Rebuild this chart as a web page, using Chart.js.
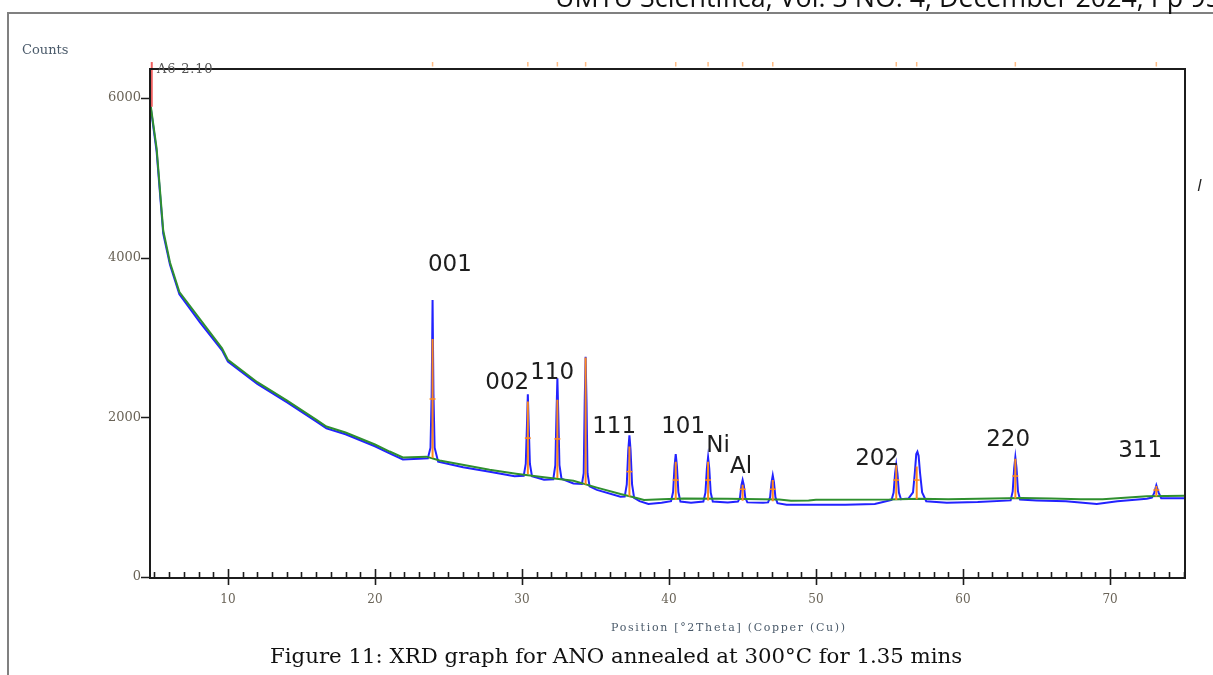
<!DOCTYPE html>
<html>
<head>
<meta charset="utf-8">
<script src="https://cdn.jsdelivr.net/npm/chart.js@4.4.1/dist/chart.umd.min.js"></script>
<style>
  html, body { margin:0; padding:0; background:#fff; overflow:hidden; width:1213px; height:675px; }
  #wrap { position:relative; width:1213px; height:675px; overflow:hidden; }
  canvas { position:absolute; left:0; top:0; }
  .txt { position:absolute; white-space:nowrap; line-height:1; }
  #pageframe { position:absolute; left:7px; top:12px; width:1220px; height:680px; border-left:2px solid #808080; border-top:2px solid #808080; }
  #runhead { left:555px; top:-16px; font-size:26.8px; font-family:"Open Sans", sans-serif; color:#111; }
  #counts { left:22px; top:43px; font-size:13px; font-family:"DejaVu Serif", serif; color:#4a5a6a; }
  #scanid { left:157px; top:62px; font-size:13px; letter-spacing:0.8px; font-family:"DejaVu Serif", serif; color:#555; }
  #xtitle { left:611px; top:622px; font-size:11px; letter-spacing:1.7px; font-family:"DejaVu Serif", serif; color:#4a5a6a; }
  #caption { left:270px; top:645px; font-size:21.3px; font-family:"DejaVu Serif", serif; color:#111; }
  #sidechar { left:1197px; top:176px; font-size:17px; font-style:italic; font-family:"Open Sans", sans-serif; color:#222; }
</style>
</head>
<body>
<div id="wrap">
  <canvas id="xrd" width="1213" height="675"></canvas>
  <div id="pageframe"></div>
  <div class="txt" id="runhead">UMYU Scientifica, Vol. 3 NO. 4, December 2024, Pp 95 – 105</div>
  <div class="txt" id="counts">Counts</div>
  <div class="txt" id="scanid">A6 2.10</div>
  <div class="txt" id="xtitle">Position [°2Theta] (Copper (Cu))</div>
  <div class="txt" id="caption">Figure 11: XRD graph for ANO annealed at 300°C for 1.35 mins</div>
  <div class="txt" id="sidechar">I</div>
</div>
<script>
// measured scan (2theta, counts)
const scanTheta = [4.75, 5.15, 5.6, 6.06, 6.7, 8.1, 9.6, 10, 12, 14, 16, 16.7, 18, 20, 21, 21.9, 23, 23.6,
  23.78, 23.86, 23.92, 23.98, 24.06, 24.3, 26, 27.8, 29.5,
  30.12, 30.26, 30.34, 30.4, 30.46, 30.54, 30.68, 31.5,
  32.13, 32.27, 32.35, 32.41, 32.47, 32.55, 32.69, 33.5,
  34.08, 34.2, 34.27, 34.33, 34.39, 34.46, 34.6, 35.1, 36.7,
  36.99, 37.13, 37.23, 37.31, 37.39, 37.49, 37.63, 38.0, 38.6, 39.5,
  40.14, 40.28, 40.38, 40.46, 40.54, 40.64, 40.78, 41.5,
  42.34, 42.48, 42.58, 42.66, 42.74, 42.84, 42.98, 44.0,
  44.69, 44.83, 44.93, 45.01, 45.09, 45.19, 45.33, 46.4,
  46.74, 46.88, 46.98, 47.06, 47.14, 47.24, 47.38, 48, 50, 52, 54,
  55.14, 55.28, 55.38, 55.46, 55.54, 55.64, 55.78,
  56.3, 56.6, 56.72, 56.82, 56.9, 56.98, 57.08, 57.22, 57.5, 58.9, 61,
  63.24, 63.38, 63.48, 63.56, 63.64, 63.74, 63.88, 65, 67, 69.1, 70.5, 72.5,
  72.85, 73.0, 73.15, 73.3, 73.48, 75.1];
const scanCounts = [5880, 5330, 4300, 3910, 3540, 3190, 2840, 2700, 2420, 2190, 1950, 1862, 1788, 1638, 1548, 1472, 1482, 1487,
  1620, 2300, 3470, 2300, 1620, 1445, 1375, 1320, 1262,
  1268, 1420, 1900, 2290, 1900, 1420, 1262, 1218,
  1225, 1400, 2050, 2490, 2050, 1400, 1232, 1172,
  1165, 1300, 2200, 2760, 2200, 1300, 1135, 1092, 1005,
  1008, 1160, 1585, 1775, 1585, 1160, 990, 950, 915, 930,
  950, 1065, 1390, 1540, 1390, 1065, 945, 930,
  945, 1056, 1360, 1500, 1360, 1056, 945, 935,
  945, 995, 1150, 1215, 1150, 995, 935, 930,
  935, 1000, 1190, 1275, 1190, 1000, 925, 905, 905, 905, 915,
  965, 1058, 1300, 1410, 1300, 1058, 975,
  985, 1060, 1300, 1540, 1570, 1520, 1300, 1060, 950, 930, 940,
  960, 1072, 1365, 1500, 1365, 1072, 970, 960, 948, 915, 950, 982,
  995, 1050, 1150, 1060, 988, 988];

// fitted background
const bgTheta = [4.75, 5.15, 5.6, 6.06, 6.7, 9.6, 10, 12, 14, 16, 16.7, 18, 20, 21, 21.9, 23.5, 24.4, 27.8,
  29.6, 31.5, 33.5, 35.1, 36.7, 37.8, 38.3, 39.5, 41, 44, 47.5, 48.3, 49.5, 50, 55, 57, 59, 62, 64,
  66, 68, 69.5, 72.5, 75.1];
const bgCounts = [5900, 5370, 4340, 3940, 3570, 2865, 2720, 2440, 2212, 1972, 1885, 1810, 1660, 1572, 1498, 1508, 1460, 1345,
  1295, 1250, 1205, 1120, 1040, 990, 965, 975, 985, 980, 970, 955, 960, 968, 970, 980, 975, 985, 990,
  985, 975, 975, 1012, 1018];

// peak list sticks
const peakTheta = [23.92, 30.4, 32.41, 34.33, 37.31, 40.46, 42.66, 45.01, 47.06, 55.46, 56.85, 63.56, 73.15];
const peakTop   = [2980, 2200, 2220, 2750, 1635, 1445, 1445, 1155, 1215, 1400, 1385, 1480, 1140];
const peakBase  = [1490, 1290, 1240, 1160, 1010, 965, 960, 955, 950, 965, 975, 985, 1010];
const peakMid   = [2230, 1740, 1730, null, 1320, 1215, 1215, 1100, 1100, 1215, 1215, 1265, 1090];

// reference positions marked above the frame
const refTheta = [23.92, 30.4, 32.41, 34.33, 40.46, 42.66, 45.01, 47.06, 55.46, 56.85, 63.56, 73.15];

// reflection labels
const hklText   = ["001", "002", "110", "111", "101", "Ni", "Al", "202", "220", "311"];
const hklTheta  = [25.1, 29.0, 32.05, 36.27, 40.96, 43.34, 44.9, 54.16, 63.07, 72.05];
const hklCounts = [3910, 2431, 2556, 1880, 1880, 1642, 1378, 1479, 1717, 1579];

const xTickLabels = [10, 20, 30, 40, 50, 60, 70];
const yTickLabels = [0, 2000, 4000, 6000];

const startTheta = 4.82;

const sticks = [];
peakTheta.forEach((t, i) => {
  sticks.push({x: t, y: peakBase[i]}, {x: t, y: peakTop[i]}, {x: t, y: null});
});
const midMarks = [];
peakTheta.forEach((t, i) => { if (peakMid[i] !== null) midMarks.push({x: t, y: peakMid[i]}); });
const refMarks = [];
refTheta.forEach(t => { refMarks.push({x: t, y: 6395}, {x: t, y: 6450}, {x: t, y: null}); });

const frameAndLabels = {
  id: 'frameAndLabels',
  afterDatasetsDraw(chart) {
    const {ctx, chartArea: a, scales: {x, y}} = chart;
    ctx.save();
    ctx.strokeStyle = '#1c1c1c';
    ctx.lineWidth = 2;
    ctx.strokeRect(a.left, a.top, a.right - a.left, a.bottom - a.top);

    ctx.lineWidth = 1.6;
    ctx.beginPath();
    for (let d = 5; d <= 75; d++) {
      const px = Math.round(x.getPixelForValue(d)) + 0.5;
      if (d % 10 === 0) { ctx.moveTo(px, a.bottom - 9); ctx.lineTo(px, a.bottom + 7); }
      else { ctx.moveTo(px, a.bottom - 6); ctx.lineTo(px, a.bottom); }
    }
    yTickLabels.forEach(v => {
      const py = Math.round(y.getPixelForValue(v)) + 0.5;
      ctx.moveTo(a.left - 9, py); ctx.lineTo(a.left, py);
    });
    ctx.stroke();

    ctx.fillStyle = '#1e1e1e';
    ctx.font = '23px "DejaVu Sans"';
    ctx.textAlign = 'center';
    ctx.textBaseline = 'middle';
    hklText.forEach((s, i) => {
      ctx.fillText(s, x.getPixelForValue(hklTheta[i]), y.getPixelForValue(hklCounts[i]));
    });
    ctx.restore();
  }
};

new Chart(document.getElementById('xrd'), {
  type: 'scatter',
  data: {
    datasets: [
      { data: refMarks, showLine: true, spanGaps: false, borderColor: 'rgba(255,160,80,0.7)', borderWidth: 1.5, pointRadius: 0, clip: false },
      { data: midMarks, showLine: false, pointStyle: 'line', pointRadius: 3, borderColor: '#ff8a1c', pointBorderWidth: 1.5 },
      { data: sticks, showLine: true, spanGaps: false, borderColor: '#ff8a1c', borderWidth: 2, pointRadius: 0 },
      { data: [{x: startTheta, y: 5890}, {x: startTheta, y: 6450}], showLine: true, borderColor: '#f06060', borderWidth: 2, pointRadius: 0, clip: false },
      { data: bgTheta.map((t, i) => ({x: t, y: bgCounts[i]})), showLine: true, borderColor: '#2f8f2f', borderWidth: 2, pointRadius: 0 },
      { data: scanTheta.map((t, i) => ({x: t, y: scanCounts[i]})), showLine: true, borderColor: '#2222ff', borderWidth: 2, pointRadius: 0 }
    ]
  },
  options: {
    responsive: false,
    animation: false,
    devicePixelRatio: 1,
    layout: { padding: { left: 98, right: 28, top: 69, bottom: 37 } },
    plugins: { legend: { display: false }, tooltip: { enabled: false } },
    scales: {
      x: {
        type: 'linear', min: 4.7, max: 75.1,
        grid: { display: false, drawTicks: false }, border: { display: false },
        afterBuildTicks: s => { s.ticks = xTickLabels.map(v => ({value: v})); },
        afterFit: s => { s.height = 60; },
        ticks: { padding: 15, color: '#6a6458', font: { family: 'DejaVu Serif', size: 12 }, callback: v => String(v) }
      },
      y: {
        type: 'linear', min: -12, max: 6363,
        grid: { display: false, drawTicks: false }, border: { display: false },
        afterBuildTicks: s => { s.ticks = yTickLabels.map(v => ({value: v})); },
        afterFit: s => { s.width = 52; },
        ticks: { padding: 9, color: '#6a6458', font: { family: 'DejaVu Serif', size: 13 }, callback: v => String(v) }
      }
    }
  },
  plugins: [frameAndLabels]
});
</script>
</body>
</html>
